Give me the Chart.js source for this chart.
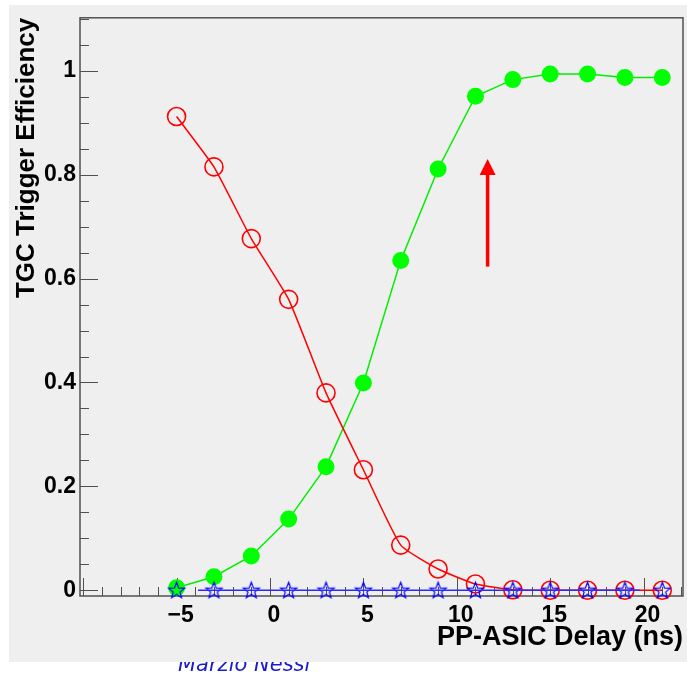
<!DOCTYPE html>
<html>
<head>
<meta charset="utf-8">
<script src="https://cdn.jsdelivr.net/npm/chart.js@4.4.1/dist/chart.umd.min.js"></script>
<style>
  html, body { margin: 0; padding: 0; background: #ffffff; }
  #wrap { width: 687px; height: 675px; }
</style>
</head>
<body>
<div id="wrap"><canvas id="c" width="687" height="675"></canvas></div>
<script>
// ---- data ----
const delays = [-5, -3, -1, 1, 3, 5, 7, 9, 11, 13, 15, 17, 19, 21];
const effGreen = [0.005, 0.026, 0.066, 0.137, 0.238, 0.399, 0.635, 0.811, 0.951, 0.983, 0.994, 0.994, 0.987, 0.987];
const effRed = [0.912, 0.815, 0.677, 0.560, 0.380, 0.232, 0.087, 0.041, 0.012, 0.001, 0, 0, 0, 0];
const effBlue = [0, 0, 0, 0, 0, 0, 0, 0, 0, 0, 0, 0, 0, 0];
const blueLineX = [-3.85, 19.8];
const blueLineY = [0, 0];
const xTickValues = [-5, 0, 5, 10, 15, 20];
const xTickLabels = ['\u22125', '0', '5', '10', '15', '20'];
const yTickValues = [0, 0.2, 0.4, 0.6, 0.8, 1];
const yTickLabels = ['0', '0.2', '0.4', '0.6', '0.8', '1'];
const arrowX = [11.65];
const arrowY = [0.623, 0.830];
const xTitle = 'PP-ASIC Delay (ns)';
const yTitle = 'TGC Trigger Efficiency';
const footerText = 'Marzio Nessi';

// ---- star marker ----
function makeStar(r, color) {
  const c = document.createElement('canvas');
  const s = Math.ceil(r * 2 + 4);
  c.width = s; c.height = s;
  const g = c.getContext('2d');
  g.strokeStyle = color; g.lineWidth = 1.2;
  g.beginPath();
  for (let i = 0; i < 10; i++) {
    const rr = (i % 2 === 0) ? r : r * 0.42;
    const a = -Math.PI / 2 + i * Math.PI / 5;
    const px = s / 2 + rr * Math.cos(a), py = s / 2 + 0.5 + rr * Math.sin(a);
    if (i === 0) g.moveTo(px, py); else g.lineTo(px, py);
  }
  g.closePath(); g.stroke();
  return c;
}
const starImg = makeStar(8.5, '#0000ff');

const rootStyle = {
  id: 'rootStyle',
  beforeDraw(chart) {
    const ctx = chart.ctx;
    ctx.save();
    ctx.fillStyle = '#ffffff';
    ctx.fillRect(0, 0, chart.width, chart.height);
    ctx.fillStyle = '#efefef';
    ctx.fillRect(9, 5, 678, 657);
    // footer text partly hidden behind the panel
    ctx.beginPath();
    ctx.rect(0, 662, chart.width, chart.height - 662);
    ctx.clip();
    ctx.fillStyle = '#1a1acc';
    ctx.font = 'italic 21px "DejaVu Sans"';
    ctx.textBaseline = 'alphabetic';
    ctx.fillText(footerText, 178, 671);
    ctx.restore();
  },
  beforeDatasetsDraw(chart) {
    const ctx = chart.ctx, a = chart.chartArea;
    const xs = chart.scales.x, ys = chart.scales.y;
    ctx.save();
    ctx.strokeStyle = '#505050';
    ctx.lineWidth = 1;
    ctx.beginPath();
    // x ticks (inside, upward)
    for (let v = -10; v <= 22; v++) {
      const px = Math.round(xs.getPixelForValue(v)) + 0.5;
      const len = (v % 5 === 0) ? 18 : 9;
      ctx.moveTo(px, a.bottom); ctx.lineTo(px, a.bottom - len);
    }
    // y ticks (inside, rightward)
    for (let k = 0; k <= 22; k++) {
      const v = k * 0.05;
      const py = Math.round(ys.getPixelForValue(v)) + 0.5;
      const len = (k % 4 === 0) ? 18 : 9;
      ctx.moveTo(a.left, py); ctx.lineTo(a.left + len, py);
    }
    ctx.stroke();
    ctx.lineWidth = 1.5;
    ctx.strokeRect(a.left, a.top, a.right - a.left, a.bottom - a.top);
    ctx.restore();
  },
  afterDatasetsDraw(chart) {
    const ctx = chart.ctx;
    const xs = chart.scales.x, ys = chart.scales.y;
    const px = xs.getPixelForValue(arrowX[0]);
    const y0 = ys.getPixelForValue(arrowY[0]);
    const y1 = ys.getPixelForValue(arrowY[1]);
    const head = 16;
    ctx.save();
    ctx.strokeStyle = '#ff0000';
    ctx.fillStyle = '#ff0000';
    ctx.lineWidth = 3.5;
    ctx.beginPath();
    ctx.moveTo(px, y0); ctx.lineTo(px, y1 + head - 1);
    ctx.stroke();
    ctx.beginPath();
    ctx.moveTo(px, y1);
    ctx.lineTo(px - 8, y1 + head);
    ctx.lineTo(px + 8, y1 + head);
    ctx.closePath();
    ctx.fill();
    ctx.restore();
  }
};

const pts = (xs, ys) => xs.map((x, i) => ({ x: x, y: ys[i] }));

new Chart(document.getElementById('c'), {
  type: 'scatter',
  data: {
    datasets: [
      { label: 'blue line', data: pts(blueLineX, blueLineY), showLine: true, borderColor: '#2a2aff', borderWidth: 1.5, pointRadius: 0, clip: false },
      { label: 'blue', data: pts(delays, effBlue), showLine: false, pointStyle: starImg, pointRadius: 9, clip: false },
      { label: 'red', data: pts(delays, effRed), showLine: true, tension: 0.15, borderColor: '#ff0000', borderWidth: 1.5,
        pointStyle: 'circle', pointRadius: 9, pointBorderColor: '#ff0000', pointBorderWidth: 1.6, pointBackgroundColor: 'rgba(0,0,0,0)', clip: false },
      { label: 'green', data: pts(delays, effGreen), showLine: true, tension: 0, borderColor: '#00ee00', borderWidth: 1.5,
        pointStyle: 'circle', pointRadius: 8.5, pointBorderWidth: 0, pointBackgroundColor: '#00ff00', pointBorderColor: '#00ff00', clip: false }
    ]
  },
  options: {
    responsive: false,
    devicePixelRatio: 1,
    animation: false,
    events: [],
    layout: { autoPadding: false, padding: { left: 0, top: 15, right: 4, bottom: 21 } },
    plugins: { legend: { display: false }, tooltip: { enabled: false }, title: { display: false } },
    scales: {
      x: {
        type: 'linear', min: -10.17, max: 22.11,
        grid: { display: false, drawTicks: false },
        border: { display: false },
        afterFit(s) { s.height = 58; },
        afterBuildTicks(s) { s.ticks = xTickValues.map(v => ({ value: v })); },
        ticks: {
          autoSkip: false, maxRotation: 0, padding: 6, labelOffset: 4, color: '#000000',
          font: { family: '"Liberation Sans", Arial, sans-serif', size: 23, weight: 'bold' },
          callback: (v) => { const i = xTickValues.indexOf(v); return i >= 0 ? xTickLabels[i] : ''; }
        },
        title: { display: true, text: xTitle, align: 'end', color: '#000000', padding: 0,
          font: { family: '"Liberation Sans", Arial, sans-serif', size: 27, weight: 'bold' } }
      },
      y: {
        type: 'linear', min: -0.011, max: 1.102,
        grid: { display: false, drawTicks: false },
        border: { display: false },
        afterFit(s) { s.width = 80; },
        afterBuildTicks(s) { s.ticks = yTickValues.map(v => ({ value: v })); },
        ticks: {
          autoSkip: false, padding: 4, color: '#000000',
          font: { family: '"Liberation Sans", Arial, sans-serif', size: 23, weight: 'bold' },
          callback: (v) => { const i = yTickValues.findIndex(t => Math.abs(t - v) < 1e-9); return i >= 0 ? yTickLabels[i] : ''; }
        },
        title: { display: true, text: yTitle, align: 'end', color: '#000000', padding: { top: 11, bottom: 0 },
          font: { family: '"Liberation Sans", Arial, sans-serif', size: 26, weight: 'bold' } }
      }
    }
  },
  plugins: [rootStyle]
});
</script>
</body>
</html>
